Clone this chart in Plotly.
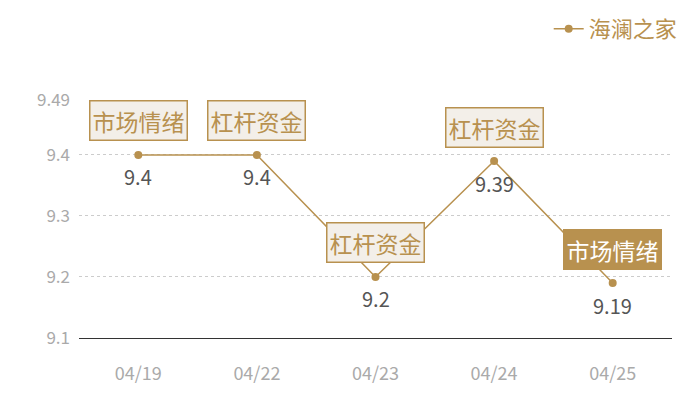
import plotly.graph_objects as go

# chart data
dates = ["04/19", "04/22", "04/23", "04/24", "04/25"]
values = [9.4, 9.4, 9.2, 9.39, 9.19]
tags = ["市场情绪", "杠杆资金", "杠杆资金", "杠杆资金", "市场情绪"]
highlight = [False, False, False, False, True]
series_name = "海澜之家"
y_ticks = [9.1, 9.2, 9.3, 9.4, 9.49]

gold = "#b8914f"
font = "Noto Sans CJK SC"

fig = go.Figure()
fig.add_trace(go.Scatter(
    x=dates, y=values, name=series_name,
    mode="lines+markers",
    line=dict(color=gold, width=1.5),
    marker=dict(color=gold, size=8),
    showlegend=True,
    cliponaxis=False,
))

for d, v, t, h in zip(dates, values, tags, highlight):
    # tag box above the point
    fig.add_annotation(
        x=d, y=v, text=t, showarrow=False, yshift=34,
        font=dict(size=23, color="#ffffff" if h else gold, family=font),
        bgcolor=gold if h else "#f3efe9",
        bordercolor=gold, borderwidth=1.5, borderpad=2,
    )
    # value label below the point
    fig.add_annotation(
        x=d, y=v, text=str(v), showarrow=False, yshift=-22,
        font=dict(size=20, color="#555555", family=font),
    )

# page body has an 8px margin, so the figure is 8px smaller than the window
fig.update_layout(
    width=692, height=392,
    margin=dict(l=71, r=28, t=92, b=62, autoexpand=False),
    plot_bgcolor="white", paper_bgcolor="white",
    font=dict(family=font),
    legend=dict(x=0.975, y=1.0, xref="container", yref="container",
                xanchor="right", yanchor="top",
                font=dict(size=22, color=gold, family=font),
                itemwidth=30, bgcolor="rgba(0,0,0,0)"),
    xaxis=dict(type="category", range=[-0.5, 4.5], showgrid=False,
               showline=True, linecolor="#333333", linewidth=1,
               ticks="", tickfont=dict(size=18, color="#aaaaaa"),
               ticklabelstandoff=19, fixedrange=True, automargin=False),
    yaxis=dict(range=[9.1, 9.49], tickvals=y_ticks,
               ticktext=[str(t) for t in y_ticks],
               showgrid=True, gridcolor="#cccccc", griddash="dot", gridwidth=1,
               zeroline=False, showline=False, ticks="",
               tickfont=dict(size=17, color="#aaaaaa"),
               ticklabelstandoff=8, fixedrange=True, automargin=False),
)

fig.write_html("out.html")
